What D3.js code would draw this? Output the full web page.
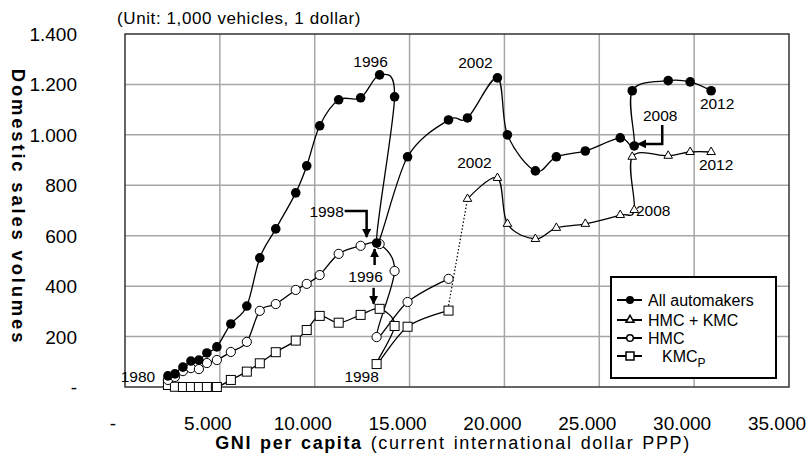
<!DOCTYPE html>
<html>
<head>
<meta charset="utf-8">
<script src="https://cdn.jsdelivr.net/npm/d3@7"></script>
<style>
  body { margin: 0; background: #fff; }
  text { font-family: "Liberation Sans", Arial, sans-serif; fill: #000; }
</style>
</head>
<body>
<script>
//Declare DATA
const years = [1980, 1981, 1982, 1983, 1984, 1985, 1986, 1987, 1988, 1989, 1990,
  1991, 1992, 1993, 1994, 1995, 1996, 1997, 1998, 1999, 2000,
  2001, 2002, 2003, 2004, 2005, 2006, 2007, 2008, 2009, 2010, 2011, 2012]

// GNI per capita (current international dollar PPP)
const gni = [2263, 2632, 3053, 3474, 3895, 4316, 4842, 5579, 6421, 7105, 7947,
  9000, 9579, 10263, 11263, 12421, 13421, 14210, 13263, 14895, 17053,
  18053, 19632, 20158, 21632, 22737, 24263, 26105, 26842, 26737, 28632, 29790, 30895]

// domestic sales, 1,000 vehicles
const allSales = [44, 52, 79, 103, 107, 135, 159, 250, 321, 512, 627,
  770, 877, 1036, 1139, 1147, 1238, 1151, 571, 913, 1059,
  1067, 1226, 1000, 857, 913, 936, 988, 956, 1175, 1215, 1210, 1175]
const hmcSales = [28, 40, 63, 75, 71, 95, 107, 139, 179, 302, 329,
  385, 409, 444, 528, 560, 567, 460, 198, 337, 429]          // 1980-2000
const kmcSales = [8, 1, 0, 0, 0, 0, 0, 28, 61, 94, 138,
  184, 226, 282, 255, 286, 310, 242, 91, 239, 303]            // 1980-2000
const hmcKmcSales = [746, 829, 647, 587, 631, 647, 682, 702, 913, 917, 932, 932]  // 2001-2012

const xTicks = [0, 5000, 10000, 15000, 20000, 25000, 30000, 35000]
const yTicks = [0, 200, 400, 600, 800, 1000, 1200, 1400]
const legendNames = ['All automakers', 'HMC + KMC', 'HMC', 'KMC']

//Declare VARIABLES
const w = 811
const h = 456
const m = { left: 125, right: 789, top: 34, bottom: 387 }

const svg = d3.select('body')
  .append('svg')
  .attr('width', w)
  .attr('height', h)

// Scales
const x = d3.scaleLinear().domain([0, 35000]).range([m.left, m.right])
const y = d3.scaleLinear().domain([0, 1400]).range([m.bottom, m.top])

const fmt = d => d === 0 ? '-' : d3.format(',')(d).replace(',', '.')

// series as point lists
const pts = (vals, start) => vals.map((v, i) => {
  const k = years.indexOf(start) + i
  return { year: years[k], gni: gni[k], v: v }
})
const allPts = pts(allSales, 1980)
const hmcPts = pts(hmcSales, 1980)
const kmcPts = pts(kmcSales, 1980)
const hkPts = pts(hmcKmcSales, 2001)
const byYear = (arr, yr) => arr.find(d => d.year === yr)

//Declare GRID
svg.append('g')
  .selectAll('line')
  .data(xTicks.slice(1, -1))
  .enter()
  .append('line')
  .attr('x1', d => x(d)).attr('x2', d => x(d))
  .attr('y1', m.top).attr('y2', m.bottom)
  .attr('stroke', '#a6a6a6').attr('stroke-width', 1.5)

svg.append('g')
  .selectAll('line')
  .data(yTicks.slice(1, -1))
  .enter()
  .append('line')
  .attr('x1', m.left).attr('x2', m.right)
  .attr('y1', d => y(d)).attr('y2', d => y(d))
  .attr('stroke', '#a6a6a6').attr('stroke-width', 1.5)

svg.append('rect')
  .attr('x', m.left).attr('y', m.top)
  .attr('width', m.right - m.left).attr('height', m.bottom - m.top)
  .attr('fill', 'none').attr('stroke', '#333').attr('stroke-width', 1.5)

//Declare TICK LABELS
svg.append('g')
  .selectAll('text')
  .data(xTicks)
  .enter()
  .append('text')
  .attr('x', d => x(d) - 12)
  .attr('y', 430)
  .attr('text-anchor', 'middle')
  .style('font-size', '19px')
  .text(fmt)

svg.append('g')
  .selectAll('text')
  .data(yTicks)
  .enter()
  .append('text')
  .attr('x', 77)
  .attr('y', d => y(d) + 7)
  .attr('text-anchor', 'end')
  .style('font-size', '19px')
  .text(fmt)

//Declare TITLES
svg.append('text')
  .attr('x', 117)
  .attr('y', 24)
  .style('font-size', '17px')
  .style('letter-spacing', '0.6px')
  .text('(Unit: 1,000 vehicles, 1 dollar)')

const xTitle = svg.append('text')
  .attr('x', 453)
  .attr('y', 449)
  .attr('text-anchor', 'middle')
  .style('letter-spacing', '1.6px')
  .style('word-spacing', '1.5px')
xTitle.append('tspan').style('font-weight', 'bold').style('font-size', '18px').text('GNI per capita')
xTitle.append('tspan').style('font-size', '18px').text(' (current international dollar PPP)')

svg.append('text')
  .attr('transform', 'translate(12,207) rotate(90)')
  .attr('text-anchor', 'middle')
  .style('font-weight', 'bold')
  .style('font-size', '18.5px')
  .style('letter-spacing', '2.8px')
  .text('Domestic sales volumes')

//Declare LINES
const line = d3.line()
  .x(d => x(d.gni))
  .y(d => y(d.v))
  .curve(d3.curveCatmullRom.alpha(0))

const series = [allPts, hkPts, hmcPts, kmcPts]
svg.append('g')
  .selectAll('path')
  .data(series)
  .enter()
  .append('path')
  .attr('d', line)
  .attr('fill', 'none')
  .attr('stroke', '#000')
  .attr('stroke-width', 1.3)

// dotted link KMC 2000 -> HMC+KMC 2001
const k2000 = byYear(kmcPts, 2000)
const hk2001 = byYear(hkPts, 2001)
svg.append('line')
  .attr('x1', x(k2000.gni)).attr('y1', y(k2000.v) - 5)
  .attr('x2', x(hk2001.gni)).attr('y2', y(hk2001.v))
  .attr('stroke', '#000').attr('stroke-width', 1.2)
  .attr('stroke-dasharray', '1.5,2')

//Declare MARKERS
svg.append('g')
  .selectAll('path')
  .data(hkPts)
  .enter()
  .append('path')
  .attr('transform', d => `translate(${x(d.gni)},${y(d.v)})`)
  .attr('d', d3.symbol(d3.symbolTriangle).size(32))
  .attr('fill', '#fff').attr('stroke', '#000').attr('stroke-width', 1)

svg.append('g')
  .selectAll('rect')
  .data(kmcPts)
  .enter()
  .append('rect')
  .attr('x', d => x(d.gni) - 4.5).attr('y', d => y(d.v) - 4.5)
  .attr('width', 9).attr('height', 9)
  .attr('fill', '#fff').attr('stroke', '#000').attr('stroke-width', 1)

svg.append('g')
  .selectAll('circle')
  .data(hmcPts)
  .enter()
  .append('circle')
  .attr('cx', d => x(d.gni)).attr('cy', d => y(d.v)).attr('r', 4.6)
  .attr('fill', '#fff').attr('stroke', '#000').attr('stroke-width', 1)

svg.append('g')
  .selectAll('circle')
  .data(allPts)
  .enter()
  .append('circle')
  .attr('cx', d => x(d.gni)).attr('cy', d => y(d.v)).attr('r', 4.8)
  .attr('fill', '#000')

//Declare ANNOTATIONS
svg.append('defs').append('marker')
  .attr('id', 'arrow')
  .attr('viewBox', '0 0 10 10')
  .attr('refX', 9).attr('refY', 5)
  .attr('markerWidth', 3.6).attr('markerHeight', 3.6)
  .attr('markerUnits', 'strokeWidth')
  .attr('orient', 'auto')
  .append('path')
  .attr('d', 'M0,0L10,5L0,10Z')
  .attr('fill', '#000')

// [series, year, label dx, label dy]
const labels = [
  [allPts, 1996, -9, -13],
  [allPts, 1980, -30, 1],
  [allPts, 2002, -22, -15],
  [allPts, 2012, 6, 13],
  [hkPts, 2002, -23, -15],
  [hkPts, 2008, 19, 1],
  [hkPts, 2012, 5, 12],
  [kmcPts, 1998, -15, 12],
  [hmcPts, 1996, -14, 32],
  [allPts, 1998, -50, -32],
  [allPts, 2008, 26, -30]
]
svg.append('g')
  .selectAll('text')
  .data(labels)
  .enter()
  .append('text')
  .attr('x', d => x(byYear(d[0], d[1]).gni) + d[2])
  .attr('y', d => y(byYear(d[0], d[1]).v) + d[3] + 5.5)
  .attr('text-anchor', 'middle')
  .style('font-size', '15.5px')
  .text(d => d[1])

// arrows: [series, year, path points relative to the point]
const arrows = [
  [allPts, 1998, [[-32, -32], [-10, -32], [-10, -6]], 2.5],
  [allPts, 2008, [[28, -21], [28, -2], [4, -2]], 2.5],
  [hmcPts, 1996, [[-5, 21], [-5, 5]], 2.5],
  [kmcPts, 1996, [[-6, -21], [-6, -5]], 2.5]
]
svg.append('g')
  .selectAll('path')
  .data(arrows)
  .enter()
  .append('path')
  .attr('d', d => {
    const p = byYear(d[0], d[1])
    return d3.line()(d[2].map(o => [x(p.gni) + o[0], y(p.v) + o[1]]))
  })
  .attr('fill', 'none')
  .attr('stroke', '#000')
  .attr('stroke-width', d => d[3])
  .attr('marker-end', 'url(#arrow)')

//Declare the LEGEND
const lg = svg.append('g').attr('transform', 'translate(611,277)')
lg.append('rect')
  .attr('width', 165).attr('height', 101)
  .attr('fill', '#fff').attr('stroke', '#000').attr('stroke-width', 2)

const rowY = [23, 43, 61, 79]
const rows = lg.selectAll('g.row')
  .data(legendNames)
  .enter()
  .append('g')
  .attr('class', 'row')
  .attr('transform', (d, i) => `translate(0,${rowY[i]})`)

rows.append('line')
  .attr('x1', 6).attr('x2', 31)
  .attr('stroke', '#000').attr('stroke-width', 2)

rows.each(function (d, i) {
  const g = d3.select(this)
  if (i === 0) g.append('circle').attr('cx', 19).attr('r', 4).attr('fill', '#000')
  if (i === 1) g.append('path').attr('transform', 'translate(19,0)')
    .attr('d', d3.symbol(d3.symbolTriangle).size(28))
    .attr('fill', '#fff').attr('stroke', '#000').attr('stroke-width', 1.5)
  if (i === 2) g.append('circle').attr('cx', 19).attr('r', 3.3)
    .attr('fill', '#fff').attr('stroke', '#000').attr('stroke-width', 1.5)
  if (i === 3) g.append('rect').attr('x', 15).attr('y', -4).attr('width', 8).attr('height', 8)
    .attr('fill', '#fff').attr('stroke', '#000').attr('stroke-width', 1.5)
})

rows.append('text')
  .attr('x', (d, i) => i === 3 ? 51 : 37)
  .attr('y', 6)
  .style('font-size', '16px')
  .text(d => d)
  .filter((d, i) => i === 3)
  .append('tspan')
  .attr('dy', 5)
  .style('font-size', '12px')
  .text('P')
</script>
</body>
</html>
